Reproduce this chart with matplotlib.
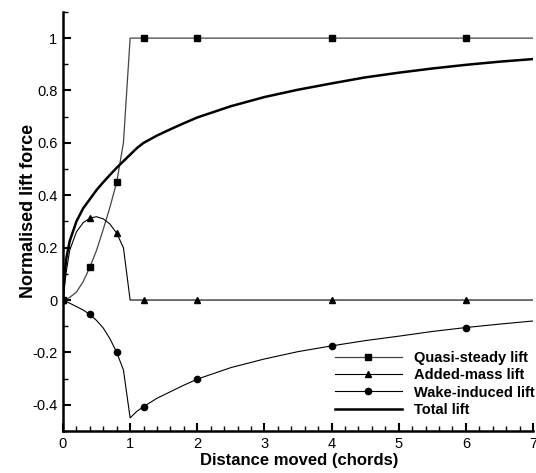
import numpy as np
import matplotlib
matplotlib.use('Agg')
import matplotlib.pyplot as plt
from matplotlib.ticker import MultipleLocator, FuncFormatter

plt.rcParams['font.family'] = ['Liberation Sans', 'DejaVu Sans']

# distance moved (chords)
x = [0, 0.025, 0.05, 0.1, 0.2, 0.3, 0.4, 0.5, 0.6, 0.7, 0.8, 0.9, 1.0,
     1.1, 1.2, 1.4, 1.6, 1.8, 2.0, 2.5, 3.0, 3.5, 4.0, 4.5, 5.0, 5.5, 6.0, 6.5, 7.0]

quasi = [0, 0.001, 0.003, 0.01, 0.03, 0.07, 0.125, 0.19, 0.27, 0.355, 0.45, 0.6, 1.0,
         1.0, 1.0, 1.0, 1.0, 1.0, 1.0, 1.0, 1.0, 1.0, 1.0, 1.0, 1.0, 1.0, 1.0, 1.0, 1.0]
added = [0, 0.06, 0.11, 0.19, 0.26, 0.295, 0.313, 0.318, 0.31, 0.29, 0.255, 0.2, 0.0,
         0, 0, 0, 0, 0, 0, 0, 0, 0, 0, 0, 0, 0, 0, 0, 0]
wake = [0, -0.003, -0.006, -0.012, -0.025, -0.038, -0.055, -0.078, -0.107, -0.148, -0.2, -0.267, -0.45,
        -0.425, -0.407, -0.375, -0.35, -0.325, -0.302, -0.258, -0.225, -0.197, -0.175,
        -0.155, -0.138, -0.12, -0.105, -0.092, -0.08]
total = [0, 0.1, 0.16, 0.225, 0.3, 0.35, 0.385, 0.42, 0.45, 0.478, 0.505, 0.53, 0.555,
         0.58, 0.6, 0.628, 0.652, 0.675, 0.697, 0.74, 0.775, 0.803, 0.827,
         0.85, 0.868, 0.884, 0.898, 0.91, 0.92]

# indices where symbols are drawn (x = 0, 0.4, 0.8, 1.2, 2, 4, 6)
marks = [0, 6, 10, 14, 18, 22, 26]

fig = plt.figure(figsize=(5.36, 4.73), dpi=100)
ax = fig.add_axes([0.1175, 0.0888, 0.877, 0.886])

ax.plot(x, quasi, color='#444444', lw=0.9, marker='s', ms=5, markevery=marks,
        markerfacecolor='black', markeredgecolor='black', label='Quasi-steady lift')
ax.plot(x, added, color='black', lw=0.8, marker='^', ms=5, markevery=marks,
        label='Added-mass lift')
ax.plot(x, wake, color='black', lw=0.8, marker='o', ms=4.5, markevery=marks,
        label='Wake-induced lift')
ax.plot(x, total, color='black', lw=1.8, label='Total lift')

ax.set_xlim(0, 7)
ax.set_ylim(-0.5, 1.1)
ax.xaxis.set_major_locator(MultipleLocator(1))
ax.xaxis.set_minor_locator(MultipleLocator(0.2))
ax.yaxis.set_major_locator(MultipleLocator(0.2))
ax.yaxis.set_minor_locator(MultipleLocator(0.1))
ax.yaxis.set_major_formatter(FuncFormatter(lambda v, p: '%g' % round(v, 2)))
ax.xaxis.set_major_formatter(FuncFormatter(lambda v, p: '%g' % v))

for s in ['top', 'right']:
    ax.spines[s].set_visible(False)
for s in ['left', 'bottom']:
    ax.spines[s].set_linewidth(1.8)

ax.tick_params(which='major', direction='in', length=6, width=1.5, labelsize=10.5, pad=4)
ax.tick_params(which='minor', direction='in', length=3.5, width=1.0)

ax.set_xlabel('Distance moved (chords)', fontsize=12, fontweight='bold')
ax.set_ylabel('Normalised lift force', fontsize=13, fontweight='bold')
ax.xaxis.set_label_coords(0.502, -0.052)
ax.yaxis.set_label_coords(-0.056, 0.524)

ax.legend(loc='lower right', bbox_to_anchor=(1.015, 0.02), frameon=False,
          prop={'size': 10.5, 'weight': 'bold'}, handlelength=4.6,
          handletextpad=0.8, labelspacing=0.22, borderaxespad=0)

fig.savefig('out.png', dpi=100)
